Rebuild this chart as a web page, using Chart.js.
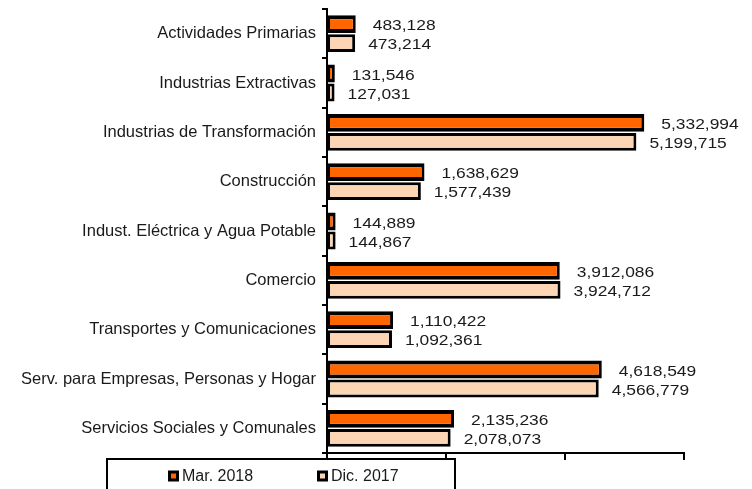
<!DOCTYPE html>
<html>
<head>
<meta charset="utf-8">
<script src="https://cdn.jsdelivr.net/npm/chart.js@4.4.1/dist/chart.umd.min.js"></script>
<style>
  html, body { margin: 0; padding: 0; background: #fff; }
  #wrap { width: 752px; height: 489px; }
</style>
</head>
<body>
<div id="wrap"><canvas id="chart" width="752" height="489"></canvas></div>
<script>
var categories = [
    "Actividades Primarias",
    "Industrias Extractivas",
    "Industrias de Transformación",
    "Construcción",
    "Indust. Eléctrica y Agua Potable",
    "Comercio",
    "Transportes y Comunicaciones",
    "Serv. para Empresas, Personas y Hogar",
    "Servicios Sociales y Comunales"
];
var mar2018 = [483128, 131546, 5332994, 1638629, 144889, 3912086, 1110422, 4618549, 2135236];
var dic2017 = [473214, 127031, 5199715, 1577439, 144867, 3924712, 1092361, 4566779, 2078073];
var seriesNames = ["Mar. 2018", "Dic. 2017"];

var FONT = "'Liberation Sans', Arial, sans-serif";

// value labels at the end of each bar (text is a bit wide in the original)
var valueLabels = {
    id: 'valueLabels',
    afterDatasetsDraw: function(chart) {
        var ctx = chart.ctx;
        ctx.save();
        ctx.font = "15px " + FONT;
        ctx.fillStyle = "#1a1a1a";
        ctx.textAlign = "left";
        ctx.textBaseline = "middle";
        chart.data.datasets.forEach(function(ds, i) {
            var meta = chart.getDatasetMeta(i);
            var gap = i === 0 ? 17 : 13;
            meta.data.forEach(function(bar, j) {
                ctx.save();
                ctx.translate(bar.x + gap, bar.y + 2);
                ctx.scale(1.16, 1);
                ctx.fillText(ds.data[j].toLocaleString('en-US'), 0, 0);
                ctx.restore();
            });
        });
        ctx.restore();
    }
};

// legend box at the bottom
var boxLegend = {
    id: 'boxLegend',
    afterDraw: function(chart) {
        var ctx = chart.ctx;
        ctx.save();
        ctx.lineWidth = 2;
        ctx.strokeStyle = "#000";
        ctx.strokeRect(107, 459, 348, 40);
        ctx.font = "16px " + FONT;
        ctx.textAlign = "left";
        ctx.textBaseline = "middle";
        var xs = [168, 317];
        chart.data.datasets.forEach(function(ds, i) {
            var x = xs[i], y = 476;
            ctx.fillStyle = "#000";
            ctx.fillRect(x, y - 5.5, 11, 11);
            ctx.fillStyle = ds.backgroundColor;
            ctx.fillRect(x + 3, y - 2.5, 5, 5);
            ctx.fillStyle = "#1a1a1a";
            ctx.fillText(ds.label, x + 14, y + 1);
        });
        ctx.restore();
    }
};

var data = {
    labels: categories,
    datasets: [
        {
            label: seriesNames[0],
            data: mar2018,
            backgroundColor: "#FF6600",
            borderColor: "#000",
            borderWidth: { top: 4, bottom: 4, left: 2, right: 3 },
            borderSkipped: false
        },
        {
            label: seriesNames[1],
            data: dic2017,
            backgroundColor: "#FCD5B5",
            borderColor: "#000",
            borderWidth: { top: 3, bottom: 3, left: 2, right: 3 },
            borderSkipped: false
        }
    ]
};

var myChart = new Chart(document.getElementById("chart"), {
    type: 'bar',
    data: data,
    plugins: [valueLabels, boxLegend],
    options: {
        indexAxis: 'y',
        responsive: false,
        animation: false,
        categoryPercentage: 0.77,
        barPercentage: 0.94,
        layout: { padding: { top: 9, right: 68, left: 0, bottom: 0 } },
        plugins: {
            legend: { display: false },
            tooltip: { enabled: false }
        },
        scales: {
            x: {
                min: 0,
                max: 6000000,
                ticks: { stepSize: 2000000, display: false },
                grid: { drawOnChartArea: false, drawTicks: true, tickLength: 7, color: "#000", lineWidth: 2 },
                border: { display: true, color: "#000", width: 2 },
                afterFit: function(scale) {
                    scale.height = 36;
                    scale.paddingLeft = 0;
                    scale.paddingRight = 0;
                }
            },
            y: {
                ticks: { color: "#1a1a1a", font: { family: FONT, size: 16.5 }, padding: 6, autoSkip: false },
                grid: { drawOnChartArea: false, drawTicks: true, tickLength: 5, color: "#000", lineWidth: 2, offset: true },
                border: { display: true, color: "#000", width: 2 },
                afterFit: function(scale) {
                    scale.width = 327;
                    scale.paddingTop = 0;
                    scale.paddingBottom = 0;
                }
            }
        }
    }
});
</script>
</body>
</html>
